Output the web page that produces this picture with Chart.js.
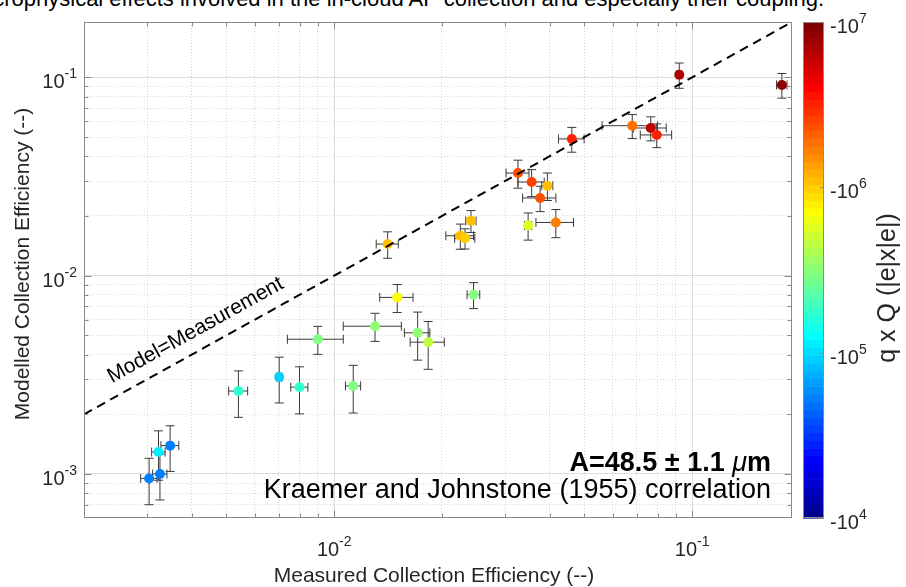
<!DOCTYPE html>
<html>
<head>
<meta charset="utf-8">
<script src="https://cdn.jsdelivr.net/npm/chart.js@4.4.0/dist/chart.umd.min.js"></script>
<style>
html, body { margin: 0; padding: 0; background: #fff; overflow: hidden; }
#wrap { position: relative; width: 906px; height: 587px; overflow: hidden; }
#cut { position: absolute; left: -30px; top: -12px; font: 22px 'Liberation Sans', Arial, sans-serif; line-height: 22px; white-space: nowrap; color: #000; }
canvas { position: absolute; left: 0; top: 0; }
</style>
</head>
<body>
<div id="wrap">
  <div id="cut">microphysical effects involved in the in-cloud AP collection and especially their coupling.</div>
  <canvas id="chart" width="906" height="587"></canvas>
</div>
<script>
// measured collection efficiency (x) and its error
const measured    = [0.00304, 0.00326, 0.00323, 0.00348, 0.0054, 0.00702, 0.0080, 0.0090, 0.0113, 0.0130,
                     0.0141, 0.0150, 0.0171, 0.0183, 0.0245, 0.0225, 0.0232, 0.0241, 0.0348, 0.0416,
                     0.0326, 0.0356, 0.0394, 0.0376, 0.0461, 0.0680, 0.0766, 0.0796, 0.0920, 0.178];
const measuredErr = [0.00016, 0.00015, 0.00014, 0.0002, 0.00033, 0.00012, 0.00044, 0.0016, 0.00055, 0.0024,
                     0.0010, 0.0016, 0.0014, 0.0020, 0.0010, 0.0020, 0.0015, 0.0008, 0.0008, 0.0050,
                     0.0024, 0.0030, 0.0014, 0.0040, 0.0038, 0.0120, 0.0080, 0.0080, 0.0015, 0.0060];
// modelled collection efficiency (y) and its error
const modelled    = [0.00095, 0.00100, 0.00129, 0.00139, 0.00262, 0.00308, 0.00274, 0.00478, 0.00278, 0.00556,
                     0.01443, 0.00777, 0.00515, 0.00462, 0.00802, 0.01589, 0.01542, 0.01889, 0.0179, 0.01854,
                     0.0329, 0.02964, 0.02842, 0.02463, 0.0489, 0.0570, 0.0555, 0.0512, 0.103, 0.0915];
const modelledErr = [0.00025, 0.00026, 0.00036, 0.00036, 0.00069, 0.0008, 0.00073, 0.00077, 0.00075, 0.0009,
                     0.0022, 0.00125, 0.0014, 0.00125, 0.0012, 0.0023, 0.0018, 0.0024, 0.0028, 0.0030,
                     0.0053, 0.0046, 0.0045, 0.0036, 0.0070, 0.0079, 0.0077, 0.0070, 0.015, 0.013];
// |q x Q| in |e|x|e| (colour)
const charge      = [52000, 52000, 112000, 52000, 170000, 94000, 170000, 316000, 295000, 339000,
                     1060000, 724000, 339000, 479000, 316000, 1060000, 1020000, 1060000, 589000, 1660000,
                     2340000, 2690000, 1060000, 2340000, 3310000, 1780000, 5960000, 3310000, 7080000, 8410000];

const refLineX = [0.002, 0.19];   // Model = Measurement
const xRange = [0.002, 0.19];
const yRange = [0.00061, 0.19];
const cRange = [1e4, 1e7];

const xTickLabels = [[0.01, '-2'], [0.1, '-1']];
const yTickLabels = [[0.001, '-3'], [0.01, '-2'], [0.1, '-1']];
const cTickLabels = [[1e4, '4'], [1e5, '5'], [1e6, '6'], [1e7, '7']];

const FONT = "'Liberation Sans', Arial, Helvetica, sans-serif";

// MATLAB jet(64)
function jet(k) {
    const u = [];
    for (let j = 1; j <= 16; j++) u.push(j / 16);
    for (let j = 0; j < 15; j++) u.push(1);
    for (let j = 16; j >= 1; j--) u.push(j / 16);
    const i = k + 1;
    const r = (i >= 25 && i - 24 <= u.length) ? u[i - 25] : 0;
    const g = (i >= 9 && i <= 55) ? u[i - 9] : 0;
    const b = (i <= 39) ? u[i + 7] : 0;
    return 'rgb(' + Math.round(r * 255) + ',' + Math.round(g * 255) + ',' + Math.round(b * 255) + ')';
}
function chargeColor(v) {
    const t = (Math.log10(v) - Math.log10(cRange[0])) / (Math.log10(cRange[1]) - Math.log10(cRange[0]));
    return jet(Math.max(0, Math.min(63, Math.floor(t * 64))));
}

function isPow10(v) {
    const l = Math.log10(v);
    return Math.abs(l - Math.round(l)) < 1e-9;
}
function decadeTicks(min, max) {
    const out = [];
    for (let e = Math.floor(Math.log10(min)); e <= Math.ceil(Math.log10(max)); e++) {
        for (let m = 1; m <= 9; m++) {
            const v = +(m * Math.pow(10, e)).toPrecision(6);
            if (v >= min * 0.9999 && v <= max * 1.0001) out.push({value: v, major: m === 1});
        }
    }
    return out;
}

const gridColor = ctx => (ctx.tick && isPow10(ctx.tick.value)) ? '#dcdcdc' : '#d6d6d6';
const gridDash = ctx => (ctx.tick && isPow10(ctx.tick.value)) ? [] : [1, 2];

// 10^exp style label
function powLabel(ctx, base, exp, x, y, align) {
    ctx.font = '20px ' + FONT;
    const wb = ctx.measureText(base).width;
    ctx.font = '14px ' + FONT;
    const we = ctx.measureText(exp).width;
    let start = x;
    if (align === 'center') start = x - (wb + we) / 2;
    if (align === 'right') start = x - (wb + we);
    ctx.textAlign = 'left';
    ctx.textBaseline = 'alphabetic';
    ctx.font = '20px ' + FONT;
    ctx.fillText(base, start, y);
    ctx.font = '14px ' + FONT;
    ctx.fillText(exp, start + wb, y - 10);
}

const errorBars = {
    id: 'errorBars',
    beforeDatasetsDraw(chart) {
        const ctx = chart.ctx, xs = chart.scales.x, ys = chart.scales.y;
        ctx.save();
        ctx.strokeStyle = '#3a3a3a';
        ctx.lineWidth = 1;
        const cap = 4.5;
        for (let i = 0; i < measured.length; i++) {
            const px = xs.getPixelForValue(measured[i]);
            const py = ys.getPixelForValue(modelled[i]);
            const xl = xs.getPixelForValue(measured[i] - measuredErr[i]);
            const xr = xs.getPixelForValue(measured[i] + measuredErr[i]);
            const yt = ys.getPixelForValue(modelled[i] + modelledErr[i]);
            const yb = ys.getPixelForValue(modelled[i] - modelledErr[i]);
            ctx.beginPath();
            ctx.moveTo(px, yt); ctx.lineTo(px, yb);
            ctx.moveTo(px - cap, yt); ctx.lineTo(px + cap, yt);
            ctx.moveTo(px - cap, yb); ctx.lineTo(px + cap, yb);
            ctx.moveTo(xl, py); ctx.lineTo(xr, py);
            ctx.moveTo(xl, py - cap); ctx.lineTo(xl, py + cap);
            ctx.moveTo(xr, py - cap); ctx.lineTo(xr, py + cap);
            ctx.stroke();
        }
        ctx.restore();
    }
};

const decorations = {
    id: 'decorations',
    afterDraw(chart) {
        const ctx = chart.ctx, a = chart.chartArea;
        const xs = chart.scales.x, ys = chart.scales.y, cs = chart.scales.cb;
        ctx.save();

        // axes box and inward ticks
        ctx.strokeStyle = '#8a8a8a';
        ctx.lineWidth = 1;
        const L = Math.round(a.left) + 0.5, R = Math.round(a.right) - 0.5;
        const T = Math.round(a.top) + 0.5, B = Math.round(a.bottom) - 0.5;
        ctx.strokeRect(L, T, R - L, B - T);
        ctx.beginPath();
        xs.ticks.forEach(t => {
            const p = Math.round(xs.getPixelForValue(t.value)) + 0.5;
            const len = isPow10(t.value) ? 7 : 4;
            ctx.moveTo(p, B); ctx.lineTo(p, B - len);
            ctx.moveTo(p, T); ctx.lineTo(p, T + len);
        });
        ys.ticks.forEach(t => {
            const p = Math.round(ys.getPixelForValue(t.value)) + 0.5;
            const len = isPow10(t.value) ? 7 : 4;
            ctx.moveTo(L, p); ctx.lineTo(L + len, p);
            ctx.moveTo(R, p); ctx.lineTo(R - len, p);
        });
        ctx.stroke();

        // tick labels
        ctx.fillStyle = '#262626';
        xTickLabels.forEach(([v, e]) => powLabel(ctx, '10', e, xs.getPixelForValue(v), 556, 'center'));
        yTickLabels.forEach(([v, e]) => powLabel(ctx, '10', e, 77, ys.getPixelForValue(v) + 11, 'right'));

        // axis titles
        ctx.font = '21px ' + FONT;
        ctx.textAlign = 'center';
        ctx.textBaseline = 'middle';
        ctx.fillText('Measured Collection Efficiency (--)', 434, 576);
        ctx.save();
        ctx.translate(23, 264);
        ctx.rotate(-Math.PI / 2);
        ctx.fillText('Modelled Collection Efficiency (--)', 0, 0);
        ctx.restore();

        // colour bar
        const cbL = 803, cbR = 824;
        const lc0 = Math.log10(cRange[0]), lc1 = Math.log10(cRange[1]);
        for (let k = 0; k < 64; k++) {
            const lo = Math.pow(10, lc0 + (lc1 - lc0) * k / 64);
            const hi = Math.pow(10, lc0 + (lc1 - lc0) * (k + 1) / 64);
            const y1 = cs.getPixelForValue(hi), y2 = cs.getPixelForValue(lo);
            ctx.fillStyle = jet(k);
            ctx.fillRect(cbL, y1, cbR - cbL, y2 - y1 + 0.6);
        }
        ctx.strokeStyle = '#8a8a8a';
        ctx.strokeRect(cbL + 0.5, Math.round(cs.top) + 0.5, cbR - cbL - 1, Math.round(cs.bottom - cs.top) - 1);
        ctx.beginPath();
        cTickLabels.forEach(([v]) => {
            const p = Math.round(cs.getPixelForValue(v)) + 0.5;
            ctx.moveTo(cbR, p); ctx.lineTo(cbR - 4, p);
        });
        ctx.stroke();
        ctx.fillStyle = '#262626';
        cTickLabels.forEach(([v, e]) => powLabel(ctx, '-10', e, 830, cs.getPixelForValue(v) + 11, 'left'));
        ctx.font = '25px ' + FONT;
        ctx.textAlign = 'center';
        ctx.textBaseline = 'middle';
        ctx.save();
        ctx.translate(888, 288);
        ctx.rotate(-Math.PI / 2);
        ctx.fillText('q x Q (|e|x|e|)', 0, 0);
        ctx.restore();

        // Model=Measurement label along the 1:1 line
        const p0x = xs.getPixelForValue(refLineX[0]), p0y = ys.getPixelForValue(refLineX[0]);
        const p1x = xs.getPixelForValue(refLineX[1]), p1y = ys.getPixelForValue(refLineX[1]);
        const ang = Math.atan2(p1y - p0y, p1x - p0x);
        ctx.fillStyle = '#000';
        ctx.save();
        ctx.translate(xs.getPixelForValue(0.0041), ys.getPixelForValue(0.0053));
        ctx.rotate(ang);
        ctx.font = '21px ' + FONT;
        ctx.fillText('Model=Measurement', 0, 0);
        ctx.restore();

        // fit annotation
        ctx.textBaseline = 'alphabetic';
        ctx.textAlign = 'left';
        const right = 771;
        const s1 = 'A=48.5 \u00b1 1.1 ', s2 = '\u03bc', s3 = 'm';
        ctx.font = 'bold 27px ' + FONT;
        const w1 = ctx.measureText(s1).width, w3 = ctx.measureText(s3).width;
        ctx.font = 'italic 27px ' + FONT;
        const w2 = ctx.measureText(s2).width;
        let sx = right - (w1 + w2 + w3);
        ctx.font = 'bold 27px ' + FONT;
        ctx.fillText(s1, sx, 471);
        ctx.font = 'italic 27px ' + FONT;
        ctx.fillText(s2, sx + w1, 471);
        ctx.font = 'bold 27px ' + FONT;
        ctx.fillText(s3, sx + w1 + w2, 471);
        ctx.font = '27px ' + FONT;
        ctx.textAlign = 'right';
        ctx.fillText('Kraemer and Johnstone (1955) correlation', right, 498);

        ctx.restore();
    }
};

const points = measured.map((x, i) => ({x: x, y: modelled[i]}));

new Chart(document.getElementById('chart'), {
    type: 'scatter',
    data: {
        datasets: [
            {
                type: 'line',
                data: refLineX.map(v => ({x: v, y: v})),
                borderColor: '#000',
                borderWidth: 2,
                borderDash: [9, 6],
                pointRadius: 0,
                fill: false,
                order: 0
            },
            {
                data: points,
                backgroundColor: charge.map(chargeColor),
                borderWidth: 0,
                pointRadius: 5,
                order: 1
            }
        ]
    },
    options: {
        responsive: false,
        devicePixelRatio: 1,
        animation: false,
        events: [],
        layout: { padding: { top: 22, left: 0, right: 0, bottom: 0 } },
        plugins: { legend: { display: false }, tooltip: { enabled: false } },
        scales: {
            x: {
                type: 'logarithmic', position: 'bottom', min: xRange[0], max: xRange[1],
                afterBuildTicks: s => { s.ticks = decadeTicks(xRange[0], xRange[1]); },
                afterFit: s => { s.height = 69; },
                ticks: { display: false },
                grid: { drawTicks: false, color: gridColor, lineWidth: 1 },
                border: { display: false, dash: gridDash }
            },
            y: {
                type: 'logarithmic', position: 'left', min: yRange[0], max: yRange[1],
                afterBuildTicks: s => { s.ticks = decadeTicks(yRange[0], yRange[1]); },
                afterFit: s => { s.width = 84; },
                ticks: { display: false },
                grid: { drawTicks: false, color: gridColor, lineWidth: 1 },
                border: { display: false, dash: gridDash }
            },
            cb: {
                type: 'logarithmic', position: 'right', min: cRange[0], max: cRange[1],
                afterFit: s => { s.width = 114; },
                ticks: { display: false },
                grid: { display: false, drawOnChartArea: false },
                border: { display: false }
            }
        }
    },
    plugins: [errorBars, decorations]
});
</script>
</body>
</html>
